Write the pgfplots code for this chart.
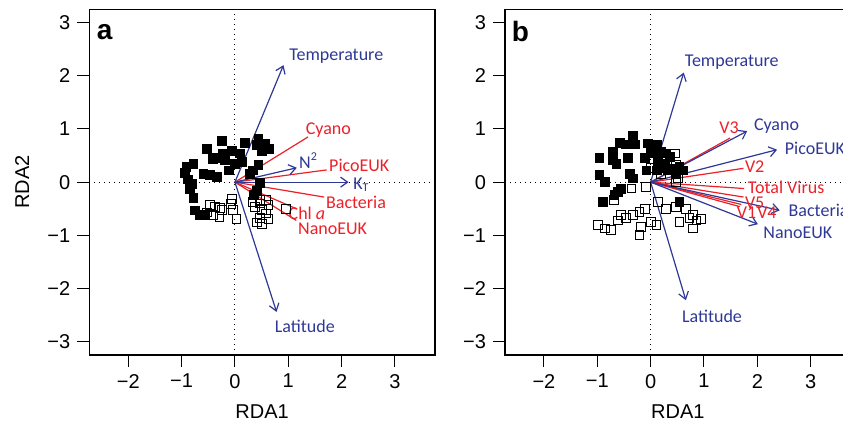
\documentclass[border=0pt]{standalone}
\usepackage{pgfplots}
\pgfplotsset{compat=1.18}
\usepackage{fontspec}
\setmainfont{Liberation Sans}
\newfontfamily\lab{Carlito}
\usetikzlibrary{arrows.meta}
\definecolor{vblue}{RGB}{46,56,150}
\definecolor{vred}{RGB}{236,32,40}

\pgfplotsset{
  rdabox/.style={
    scale only axis, width=172.85pt, height=172.85pt,
    xmin=-2.73, xmax=3.75, ymin=-3.25, ymax=3.25,
    xtick={-2,...,3}, ytick={-3,...,3},
    xticklabels={−2,−1,0,1,2,3}, yticklabels={−3,−2,−1,0,1,2,3},
    xtick pos=bottom, ytick pos=left, tick align=outside,
    major tick length=6pt, tick style={black, line width=0.5pt},
    axis line style={line width=0.6pt},
    ticklabel style={font=\fontsize{10}{12}\selectfont},
    label style={font=\fontsize{10}{12}\selectfont},
    xlabel={RDA1},
    xlabel style={at={(axis description cs:0.5,-0.165)}, anchor=center},
    ylabel style={at={(axis description cs:-0.194,0.5)}, anchor=center},
    clip=false, anchor=south west,
  },
  vec/.style={vblue, line width=0.6pt, -{Straight Barb[length=3.5pt,width=5pt]}},
  rln/.style={vred, line width=0.6pt},
  filled/.style={only marks, mark=square*, mark size=2.2pt, mark options={black, fill=black}},
  open/.style={only marks, mark=square, mark size=2.2pt, mark options={black, line width=0.5pt}},
  zero/.style={black, dotted, line width=0.5pt},
}
\tikzset{
  bl/.style={font=\lab\fontsize{9}{10}\selectfont, text=vblue, inner sep=0pt},
  rl/.style={font=\lab\fontsize{9}{10}\selectfont, text=vred, inner sep=0pt},
  pan/.style={font=\bfseries\fontsize{14}{16}\selectfont, inner sep=0pt},
}

\begin{document}
\begin{tikzpicture}

% ---- panel a ----
\begin{axis}[rdabox, ylabel={RDA2}, at={(44.65pt,36pt)}]
\addplot[zero] coordinates {(-2.73,0) (3.75,0)};
\addplot[zero] coordinates {(0,-3.25) (0,3.25)};
\addplot[filled] coordinates {
(-0.53,0.63) (-0.25,0.78) (0.19,0.74) (0.44,0.82) (0.56,0.72) (0.63,0.62)
(0.50,0.59) (0.41,0.70) (-0.06,0.59) (-0.22,0.54) (-0.34,0.46) (0.09,0.54)
(0.13,0.38) (0.0,0.35) (-0.19,0.41) (-0.41,0.43) (-0.78,0.35) (-0.91,0.29)
(-0.94,0.17) (-0.59,0.16) (-0.47,0.13) (-0.34,0.10) (-0.12,0.22) (-0.88,0.05)
(-0.81,-0.04) (-0.84,-0.12) (-0.78,-0.30) (-0.75,-0.53) (-0.66,-0.62) (-0.56,-0.61)
(0.44,0.32) (0.34,0.22) (0.28,0.16) (0.47,-0.02) (0.41,-0.16) (0.36,-0.24)
};
\addplot[open] coordinates {
(-0.47,-0.43) (-0.38,-0.47) (-0.28,-0.49) (-0.53,-0.57) (-0.41,-0.62) (-0.25,-0.53)
(-0.29,-0.65) (-0.06,-0.31) (-0.07,-0.41) (-0.03,-0.53) (0.03,-0.70) (0.33,-0.37)
(0.47,-0.34) (0.58,-0.34) (0.63,-0.43) (0.50,-0.53) (0.58,-0.59) (0.47,-0.68)
(0.63,-0.70) (0.41,-0.76) (0.50,-0.78) (0.96,-0.50) (0.47,-0.40) (0.38,-0.47)
};
% vectors
\addplot[rln] coordinates {(0,0) (1.37,0.85)};
\addplot[rln] coordinates {(0,0) (1.72,0.23)};
\addplot[rln] coordinates {(0,0) (1.67,-0.28)};
\addplot[rln] coordinates {(0,0) (1.15,-0.50)};
\addplot[rln] coordinates {(0,0) (1.15,-0.72)};
\addplot[vec] coordinates {(0,0) (0.91,2.20)};
\addplot[vec] coordinates {(0,0) (1.16,0.27)};
\addplot[vec] coordinates {(0,0) (2.13,0.0)};
\addplot[vec] coordinates {(0,0) (0.78,-2.44)};
\node[bl] at (axis cs:1.90,2.37) {Temperature};
\node[rl] at (axis cs:1.75,0.98) {Cyano};
\node[bl] at (axis cs:1.38,0.41) {N\textsuperscript{2}};
\node[rl] at (axis cs:2.33,0.32) {PicoEUK};
\node[bl] at (axis cs:2.37,-0.04) {K\textsubscript{T}};
\node[rl] at (axis cs:2.27,-0.38) {Bacteria};
\node[rl] at (axis cs:1.35,-0.58) {Chl \textit{a}};
\node[rl] at (axis cs:1.83,-0.88) {NanoEUK};
\node[bl] at (axis cs:1.31,-2.72) {Latitude};
\node[pan] at (axis cs:-2.44,2.83) {a};
\end{axis}

% ---- panel b ----
\begin{axis}[rdabox, at={(252.5pt,36pt)}]
\addplot[zero] coordinates {(-2.73,0) (3.75,0)};
\addplot[zero] coordinates {(0,-3.25) (0,3.25)};
\addplot[filled] coordinates {
(-0.33,0.88) (-0.58,0.74) (-0.46,0.71) (-0.30,0.71) (-0.71,0.57) (-0.96,0.46)
(-0.71,0.41) (-0.64,0.35) (-0.42,0.45) (-0.11,0.45) (-0.05,0.73) (0.01,0.61)
(0.11,0.70) (0.08,0.54) (0.20,0.57) (0.29,0.54) (0.36,0.48) (0.14,0.38)
(0.26,0.35) (0.20,0.26) (0.32,0.22) (0.45,0.26) (0.54,0.29) (0.61,0.22)
(0.48,0.16) (0.11,0.22) (-0.08,0.22) (-0.39,0.16) (-0.33,0.07) (-0.96,0.13)
(-0.86,0.01) (-0.55,-0.12) (-0.61,-0.18) (-0.68,-0.24) (-0.89,-0.37) (0.54,-0.37)
};
\addplot[open] coordinates {
(0.45,0.54) (0.48,0.32) (0.01,0.26) (0.20,0.16) (0.51,0.07) (0.48,0.01)
(-0.08,-0.09) (-0.36,-0.12) (-0.68,-0.33) (0.14,-0.37) (0.29,-0.50) (0.48,-0.46)
(0.67,-0.50) (-0.11,-0.50) (-0.21,-0.56) (-0.33,-0.62) (-0.55,-0.62) (-0.46,-0.68)
(-0.61,-0.72) (-0.99,-0.81) (-0.86,-0.87) (-0.74,-0.90) (-0.18,-0.84) (0.01,-0.75)
(0.11,-0.81) (-0.21,-0.99) (0.54,-0.75) (0.79,-0.62) (0.86,-0.72) (0.95,-0.70)
(0.79,-0.87) (0.73,-0.68)
};
\addplot[rln] coordinates {(0,0) (1.49,0.83)};
\addplot[rln] coordinates {(0,0) (1.74,0.26)};
\addplot[rln] coordinates {(0,0) (1.75,-0.12)};
\addplot[rln] coordinates {(0,0) (1.74,-0.28)};
\addplot[rln] coordinates {(0,0) (1.67,-0.46)};
\addplot[rln] coordinates {(0,0) (1.70,-0.42)};
\addplot[vec] coordinates {(0,0) (0.62,2.06)};
\addplot[vec] coordinates {(0,0) (1.81,0.96)};
\addplot[vec] coordinates {(0,0) (2.37,0.61)};
\addplot[vec] coordinates {(0,0) (2.42,-0.53)};
\addplot[vec] coordinates {(0,0) (2.01,-0.79)};
\addplot[vec] coordinates {(0,0) (0.66,-2.22)};
\node[bl] at (axis cs:1.52,2.26) {Temperature};
\node[rl] at (axis cs:1.47,1.03) {V3};
\node[bl] at (axis cs:2.36,1.05) {Cyano};
\node[bl, anchor=west] at (axis cs:2.51,0.63) {PicoEUK};
\node[rl] at (axis cs:1.95,0.29) {V2};
\node[rl] at (axis cs:2.54,-0.09) {Total Virus};
\node[rl] at (axis cs:1.95,-0.38) {V5};
\node[rl] at (axis cs:1.80,-0.58) {V1};
\node[rl] at (axis cs:2.18,-0.58) {V4};
\node[bl, anchor=west] at (axis cs:2.58,-0.53) {Bacteria};
\node[bl] at (axis cs:2.76,-0.95) {NanoEUK};
\node[bl] at (axis cs:1.15,-2.52) {Latitude};
\node[pan] at (axis cs:-2.44,2.83) {b};
\end{axis}

\pgfresetboundingbox
\useasboundingbox (0,0) rectangle (421.5pt,213.5pt);
\end{tikzpicture}
\end{document}
